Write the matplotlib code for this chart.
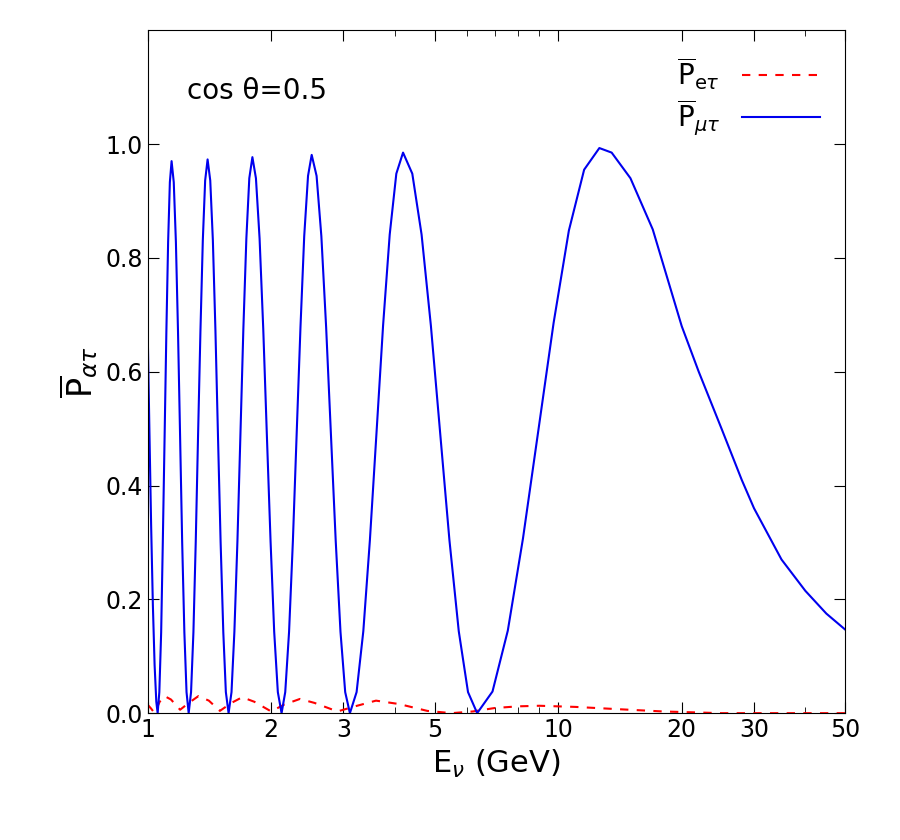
import matplotlib
matplotlib.use("Agg")
import matplotlib.pyplot as plt
from matplotlib.ticker import FixedLocator, NullFormatter

# Blue curve (P_mu_tau)
E_mt = [1.0, 1.01, 1.02, 1.03, 1.04, 1.05, 1.058,
        1.068, 1.079, 1.089, 1.100, 1.111, 1.122, 1.133, 1.144,
        1.158, 1.172, 1.186, 1.200, 1.214, 1.229, 1.244, 1.259,
        1.276, 1.293, 1.310, 1.327, 1.345, 1.363, 1.381, 1.40,
        1.421, 1.442, 1.463, 1.484, 1.506, 1.529, 1.551, 1.575,
        1.601, 1.627, 1.655, 1.683, 1.711, 1.740, 1.769, 1.80,
        1.836, 1.874, 1.913, 1.952, 1.993, 2.034, 2.076, 2.12,
        2.164, 2.211, 2.259, 2.307, 2.357, 2.407, 2.459, 2.51,
        2.580, 2.650, 2.722, 2.796, 2.872, 2.950, 3.029, 3.11,
        3.229, 3.353, 3.479, 3.610, 3.746, 3.888, 4.035, 4.19,
        4.413, 4.649, 4.898, 5.160, 5.435, 5.727, 6.032, 6.35,
        6.92, 7.54, 8.21, 8.95, 9.75, 10.62, 11.57, 12.6,
        13.5, 15.0, 17.0, 20.0, 22.0, 25.0, 28.0, 30.0, 35.0, 40.0, 45.0, 50.0]
P_mt = [0.68, 0.50, 0.33, 0.19, 0.085, 0.02, 0.0,
        0.037, 0.142, 0.300, 0.485, 0.670, 0.828, 0.933, 0.970,
        0.933, 0.828, 0.670, 0.485, 0.300, 0.142, 0.037, 0.0,
        0.037, 0.142, 0.301, 0.487, 0.672, 0.831, 0.936, 0.973,
        0.936, 0.831, 0.672, 0.487, 0.301, 0.142, 0.037, 0.0,
        0.037, 0.143, 0.302, 0.489, 0.675, 0.834, 0.940, 0.977,
        0.940, 0.834, 0.675, 0.489, 0.302, 0.143, 0.037, 0.0,
        0.037, 0.143, 0.303, 0.490, 0.678, 0.838, 0.944, 0.981,
        0.944, 0.838, 0.678, 0.490, 0.303, 0.143, 0.037, 0.0,
        0.037, 0.144, 0.304, 0.492, 0.681, 0.841, 0.948, 0.985,
        0.948, 0.841, 0.681, 0.492, 0.304, 0.144, 0.037, 0.0,
        0.038, 0.145, 0.307, 0.497, 0.686, 0.848, 0.955, 0.993,
        0.985, 0.94, 0.85, 0.68, 0.60, 0.50, 0.41, 0.36, 0.27, 0.215, 0.175, 0.147]

# Red dashed curve (P_e_tau)
E_et = [1.0, 1.02, 1.04, 1.07, 1.10, 1.14, 1.20, 1.26, 1.33, 1.41, 1.50, 1.60, 1.70, 1.82,
        2.0, 2.15, 2.35, 2.55, 2.9, 3.2, 3.6, 4.1, 4.8, 5.5, 6.2, 7.0, 8.0, 9.0, 11.0,
        14.0, 18.0, 25.0, 50.0]
P_et = [0.015, 0.008, 0.0, 0.02, 0.030, 0.024, 0.006, 0.018, 0.030, 0.022, 0.004, 0.018,
        0.028, 0.020, 0.003, 0.015, 0.025, 0.018, 0.003, 0.012, 0.022, 0.016, 0.004, 0.0,
        0.003, 0.009, 0.012, 0.013, 0.011, 0.007, 0.003, 0.0, 0.0]

xticks = [1, 2, 3, 5, 10, 20, 30, 50]
yticks = [0.0, 0.2, 0.4, 0.6, 0.8, 1.0]

fig = plt.figure(figsize=(9, 8.4), dpi=100)
ax = fig.add_axes([0.164, 0.151, 0.775, 0.813])
ax.plot(E_et, P_et, color="red", ls=(0, (4, 4)), lw=1.5,
        label=r"$\overline{\mathrm{P}}_{\mathrm{e}\tau}$")
ax.plot(E_mt, P_mt, color="#0000ee", lw=1.5,
        label=r"$\overline{\mathrm{P}}_{\mu\tau}$")
ax.set_xscale("log")
ax.set_xlim(1, 50)
ax.set_ylim(0, 1.2)
ax.xaxis.set_major_locator(FixedLocator(xticks))
ax.set_xticks(xticks)
ax.set_xticklabels([str(t) for t in xticks])
ax.xaxis.set_minor_formatter(NullFormatter())
ax.set_yticks(yticks)
ax.set_yticklabels([f"{t:.1f}" for t in yticks])
ax.tick_params(which="both", direction="in", top=True, right=True, labelsize=17)
ax.tick_params(which="major", length=8)
ax.tick_params(which="minor", length=4)
ax.set_xlabel(r"E$_\nu$ (GeV)", fontsize=22)
ax.set_ylabel(r"$\overline{\mathrm{P}}_{\alpha\tau}$", fontsize=24)
ax.text(1.25, 1.08, "cos θ=0.5", fontsize=20)
ax.legend(loc="upper right", fontsize=20, frameon=False, handlelength=2.8,
          labelspacing=0.2, markerfirst=False)
fig.savefig("out.png")
